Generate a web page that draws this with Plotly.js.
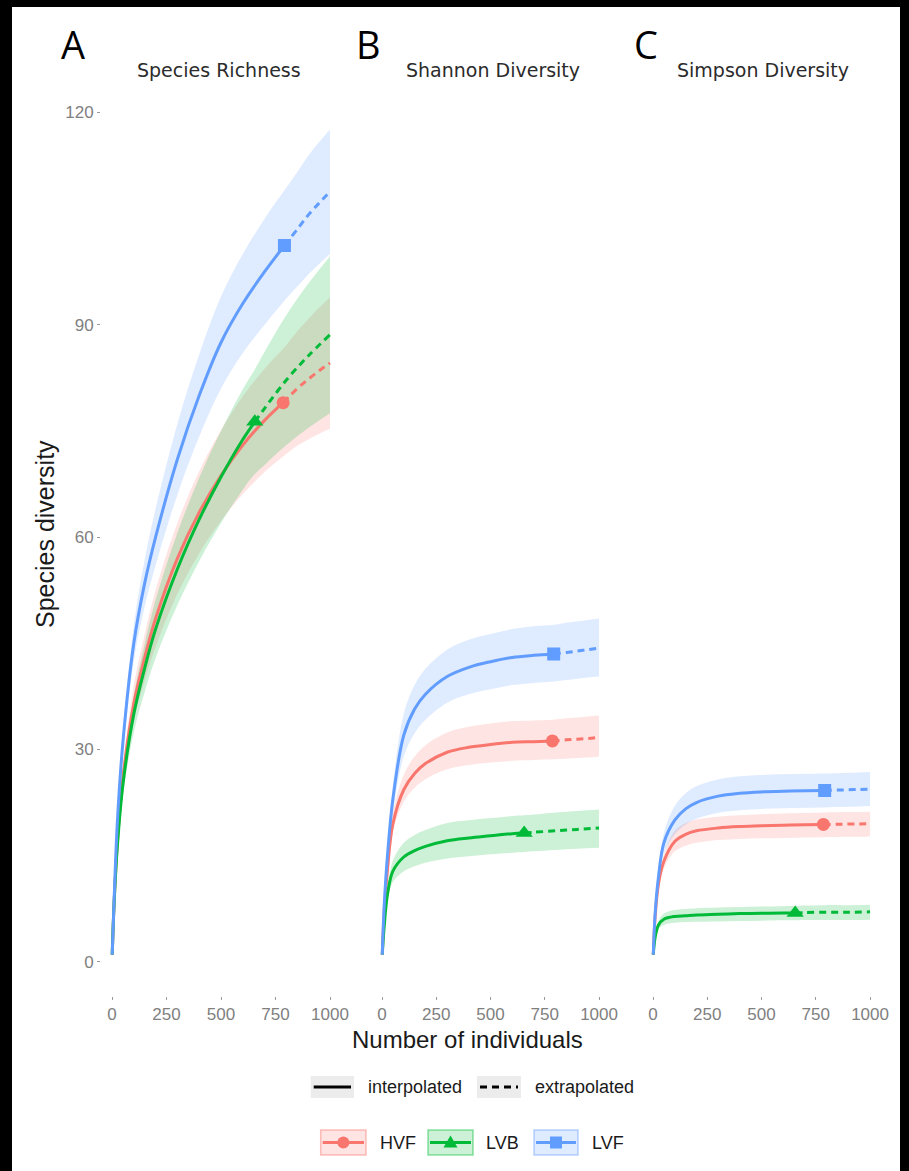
<!DOCTYPE html>
<html>
<head>
<meta charset="utf-8">
<script src="https://cdn.plot.ly/plotly-3.0.1.min.js"></script>
<style>
  html, body { margin:0; padding:0; background:#000; width:909px; height:1171px; overflow:hidden; }
  #wrap { position:absolute; left:12px; top:7px; width:888px; height:1164px; background:#fff; }
  #plot { width:888px; height:1164px; }
</style>
</head>
<body>
<div id="wrap"><div id="plot"></div></div>
<script>
// ---------------- DATA ----------------
const sites = ["HVF", "LVB", "LVF"];
const panelTitles = ["Species Richness", "Shannon Diversity", "Simpson Diversity"];
const panelLetters = ["A", "B", "C"];
const xTicks = [0, 250, 500, 750, 1000];
const yTicks = [0, 30, 60, 90, 120];

// sample sizes (individuals); observed sample size marks interpolation/extrapolation split
const nHVF = [1,10,25,50,100,150,200,300,400,500,600,700,785,850,900,950,1000];
const nLVB = [1,10,25,50,100,150,200,300,400,500,600,655,700,800,900,1000];
const nLVF = [1,10,25,50,100,150,200,300,400,500,600,700,791,850,900,950,1000];
const obsHVF = 785, obsLVB = 655, obsLVF = 791;

// Panel A: species richness
const richHVF    = [1,8.5,17,26,36.5,43,48.5,57,63.5,68.7,73,76.5,79,81,82.3,83.5,84.6];
const richHVF_lo = [1,8.2,16.2,24.5,34,39.7,44.5,52,57.7,62.3,66.1,69.2,71.4,72.9,73.8,74.6,75.3];
const richHVF_hi = [1,8.8,17.8,27.5,39,46.3,52.5,62,69.3,75.1,79.9,83.8,86.6,89.1,90.8,92.4,93.9];
const richLVB    = [1,8.5,16.5,25,35,41.5,47,55.5,62.5,68.5,73.8,76.3,78.2,82.2,85.6,88.6];
const richLVB_lo = [1,8.2,15.7,23.5,32.4,38.1,42.9,50.4,56.6,62,66.7,68.9,70.2,73,75.4,77.5];
const richLVB_hi = [1,8.8,17.3,26.5,37.6,44.9,51.1,60.6,68.4,75,80.9,83.7,86.2,91.4,95.8,99.7];
const richLVF    = [1,9,20,31,45,53.5,60,71,80,87.5,93,97.5,101.2,103.5,105.5,107.2,108.8];
const richLVF_lo = [1,8.7,19.2,29.5,42.5,50.2,56,66,74.2,81,86,90,93.4,95.4,97.1,98.6,100];
const richLVF_hi = [1,9.3,20.8,32.5,47.5,56.8,64,76,85.8,94,100,105,109,111.6,113.9,115.8,117.6];

// Panel B: Shannon diversity
const shanHVF    = [1,7,13,19.5,24.3,26.6,28,29.6,30.3,30.7,31,31.1,31.2,31.35,31.45,31.55,31.7];
const shanHVF_lo = [1,6.7,12.3,18.3,22.6,24.6,25.8,27.2,27.8,28.15,28.4,28.5,28.6,28.7,28.8,28.85,29];
const shanHVF_hi = [1,7.4,13.9,21,26.4,29,30.6,32.4,33.2,33.65,34,34.1,34.2,34.4,34.5,34.65,34.8];
const shanLVB    = [1,5,9.5,12.8,14.8,15.7,16.3,17.1,17.5,17.8,18.1,18.2,18.3,18.5,18.7,18.9];
const shanLVB_lo = [1,4.7,8.7,11.3,12.8,13.5,14,14.6,14.9,15.2,15.4,15.5,15.6,15.8,15.95,16.1];
const shanLVB_hi = [1,5.3,10.3,14.3,16.8,17.9,18.6,19.6,20,20.3,20.6,20.7,20.8,21.1,21.3,21.5];
const shanLVF    = [1,8,15,23,32,35.7,37.8,40.3,41.6,42.4,43,43.3,43.5,43.7,43.9,44.1,44.3];
const shanLVF_lo = [1,7.6,14,21,29,32.3,34.2,36.6,37.8,38.5,39.1,39.4,39.6,39.8,40,40.15,40.3];
const shanLVF_hi = [1,8.4,16,25,35,39.1,41.4,44.1,45.5,46.3,47,47.4,47.6,47.9,48.1,48.3,48.5];

// Panel C: Simpson diversity
const simpHVF    = [1,6.5,11,14.2,17,18,18.5,18.9,19.1,19.2,19.3,19.35,19.4,19.42,19.45,19.47,19.5];
const simpHVF_lo = [1,6.3,10.4,13.2,15.6,16.4,16.8,17.2,17.35,17.45,17.5,17.55,17.6,17.62,17.65,17.67,17.7];
const simpHVF_hi = [1,6.7,11.6,15.2,18.5,19.6,20.1,20.5,20.7,20.85,20.95,21,21.1,21.12,21.15,21.17,21.2];
const simpLVB    = [1,3.5,5.2,6,6.4,6.5,6.6,6.7,6.8,6.85,6.9,6.9,6.95,7,7,7.05];
const simpLVB_lo = [1,3.2,4.6,5.2,5.5,5.6,5.65,5.7,5.75,5.8,5.85,5.85,5.9,5.9,5.9,5.95];
const simpLVB_hi = [1,3.8,5.8,6.8,7.3,7.45,7.55,7.65,7.75,7.8,7.85,7.9,7.95,8,8,8.05];
const simpLVF    = [1,7,12,16.8,20,21.6,22.5,23.4,23.8,24,24.1,24.15,24.2,24.25,24.3,24.35,24.4];
const simpLVF_lo = [1,6.7,11.2,15.4,18,19.4,20.2,21.05,21.4,21.6,21.7,21.75,21.8,21.85,21.9,21.95,22];
const simpLVF_hi = [1,7.3,12.8,18.2,22,23.8,24.8,25.75,26.2,26.4,26.5,26.55,26.6,26.65,26.7,26.75,26.8];

// ---------------- STYLE ----------------
const colors = { HVF: [248,118,109], LVB: [0,186,56], LVF: [97,156,255] };
const symbols = { HVF: "circle", LVB: "triangle-up", LVF: "square" };
const msize = { HVF: 13, LVB: 15, LVF: 13 };
const rgb = (c, a) => a === undefined ? `rgb(${c.join(",")})` : `rgba(${c.join(",")},${a})`;
const SM = 1.0;

const nBySite = { HVF: nHVF, LVB: nLVB, LVF: nLVF };
const obsBySite = { HVF: obsHVF, LVB: obsLVB, LVF: obsLVF };
const panels = [
  { HVF: [richHVF, richHVF_lo, richHVF_hi], LVB: [richLVB, richLVB_lo, richLVB_hi], LVF: [richLVF, richLVF_lo, richLVF_hi] },
  { HVF: [shanHVF, shanHVF_lo, shanHVF_hi], LVB: [shanLVB, shanLVB_lo, shanLVB_hi], LVF: [shanLVF, shanLVF_lo, shanLVF_hi] },
  { HVF: [simpHVF, simpHVF_lo, simpHVF_hi], LVB: [simpLVB, simpLVB_lo, simpLVB_hi], LVF: [simpLVF, simpLVF_lo, simpLVF_hi] }
];
const xaxisIds = ["x", "x2", "x3"];

const traces = [];
panels.forEach((pd, pi) => {
  const xa = xaxisIds[pi];
  sites.forEach(s => {
    const n = nBySite[s], [v, lo, hi] = pd[s];
    traces.push({ x: n, y: lo, xaxis: xa, yaxis: "y", mode: "lines", type: "scatter",
      line: { width: 0, shape: "spline", smoothing: SM }, hoverinfo: "skip", showlegend: false });
    traces.push({ x: n, y: hi, xaxis: xa, yaxis: "y", mode: "lines", type: "scatter", fill: "tonexty",
      fillcolor: rgb(colors[s], 0.2), line: { width: 0, shape: "spline", smoothing: SM }, hoverinfo: "skip", showlegend: false });
  });
  sites.forEach(s => {
    const n = nBySite[s], v = pd[s][0];
    const k = n.indexOf(obsBySite[s]);
    traces.push({ x: n.slice(0, k + 1), y: v.slice(0, k + 1), xaxis: xa, yaxis: "y", mode: "lines", type: "scatter",
      line: { color: rgb(colors[s]), width: 3, shape: "spline", smoothing: SM }, showlegend: false });
    traces.push({ x: n.slice(k), y: v.slice(k), xaxis: xa, yaxis: "y", mode: "lines", type: "scatter",
      line: { color: rgb(colors[s]), width: 3, dash: "7px,5px", shape: "spline", smoothing: SM }, showlegend: false });
  });
  sites.forEach(s => {
    const n = nBySite[s], v = pd[s][0];
    const k = n.indexOf(obsBySite[s]);
    traces.push({ x: [n[k]], y: [v[k]], xaxis: xa, yaxis: "y", mode: "markers", type: "scatter",
      marker: { color: rgb(colors[s]), size: msize[s], symbol: symbols[s], line: { width: 0 } }, showlegend: false });
  });
});

// ---------------- LAYOUT ----------------
const W = 888, H = 1164, OX = 12, OY = 7;
const P = x => (x - OX) / W;
const Q = y => 1 - (y - OY) / H;

const tickFont = { family: "Liberation Sans, Arial, sans-serif", size: 17, color: "#808080" };
const xaxisBase = {
  range: [-50, 1050], tickvals: xTicks, ticktext: xTicks.map(String), ticks: "outside", ticklen: 3,
  tickcolor: "#9a9a9a", tickwidth: 1, showgrid: false, zeroline: false, showline: false,
  tickfont: tickFont, anchor: "y", fixedrange: true
};

const layout = {
  width: W, height: H, margin: { l: 0, r: 0, t: 0, b: 0 },
  paper_bgcolor: "#fff", plot_bgcolor: "rgba(0,0,0,0)", showlegend: false,
  xaxis:  Object.assign({}, xaxisBase, { domain: [P(101.1), P(340.9)] }),
  xaxis2: Object.assign({}, xaxisBase, { domain: [P(371.2), P(609.9)] }),
  xaxis3: Object.assign({}, xaxisBase, { domain: [P(642.2), P(880.9)] }),
  yaxis: {
    range: [-4.84, 123.6], domain: [Q(996), Q(87)], tickvals: yTicks, ticktext: yTicks.map(String),
    ticks: "outside", ticklen: 3, tickcolor: "#9a9a9a", showgrid: false, zeroline: false, showline: false,
    tickfont: tickFont, anchor: "x", fixedrange: true
  },
  annotations: [],
  shapes: []
};

const stripX = [218.5, 493, 762.5];
const letterX = [72.5, 368.5, 646];
panelTitles.forEach((t, i) => {
  layout.annotations.push({ text: t, xref: "paper", yref: "paper", x: P(stripX[i]), y: Q(70), xanchor: "center", yanchor: "middle",
    showarrow: false, font: { family: "DejaVu Sans, sans-serif", size: 19, color: "#2b2b2b" } });
  layout.annotations.push({ text: panelLetters[i], xref: "paper", yref: "paper", x: P(letterX[i]), y: Q(44), xanchor: "center", yanchor: "middle",
    showarrow: false, font: { family: "Open Sans, sans-serif", size: 38, color: "#000" } });
});
layout.annotations.push({ text: "Number of individuals", xref: "paper", yref: "paper", x: P(467.5), y: Q(1039), xanchor: "center", yanchor: "middle",
  showarrow: false, font: { family: "Liberation Sans, Arial, sans-serif", size: 24, color: "#1a1a1a" } });
layout.annotations.push({ text: "Species diversity", xref: "paper", yref: "paper", x: P(45), y: Q(534), xanchor: "center", yanchor: "middle",
  textangle: -90, showarrow: false, font: { family: "Liberation Sans, Arial, sans-serif", size: 25, color: "#1a1a1a" } });

// ---- legend 1: line type ----
const legFont = { family: "Liberation Sans, Arial, sans-serif", size: 18, color: "#1a1a1a" };
const lineTypes = ["interpolated", "extrapolated"];
const lt = [{ box: [310.7, 354], text: 366 }, { box: [477, 521], text: 533 }];
lineTypes.forEach((name, i) => {
  const b = lt[i].box;
  layout.shapes.push({ type: "rect", xref: "paper", yref: "paper", x0: P(b[0]), x1: P(b[1]), y0: Q(1098), y1: Q(1076),
    fillcolor: "#ececec", line: { width: 0 }, layer: "above" });
  layout.shapes.push({ type: "line", xref: "paper", yref: "paper", x0: P(b[0] + 3), x1: P(b[1] - 3), y0: Q(1087), y1: Q(1087),
    line: { color: "#000", width: 3, dash: i === 0 ? "solid" : "7px,5px" }, layer: "above" });
  layout.annotations.push({ text: name, xref: "paper", yref: "paper", x: P(lt[i].text), y: Q(1087), xanchor: "left", yanchor: "middle",
    showarrow: false, font: legFont });
});

// ---- legend 2: sites ----
const sk = { HVF: { box: [320.7, 366], text: 378 }, LVB: { box: [428, 473], text: 484 }, LVF: { box: [534, 578], text: 590 } };
const ly0 = 1130, ly1 = 1155, lyc = 1142.5;
sites.forEach(s => {
  const b = sk[s].box, c = colors[s], cx = (b[0] + b[1]) / 2;
  layout.shapes.push({ type: "rect", xref: "paper", yref: "paper", x0: P(b[0]), x1: P(b[1]), y0: Q(ly1), y1: Q(ly0),
    fillcolor: rgb(c, 0.2), line: { color: rgb(c, 0.45), width: 1.5 }, layer: "above" });
  layout.shapes.push({ type: "line", xref: "paper", yref: "paper", x0: P(b[0] + 2), x1: P(b[1] - 2), y0: Q(lyc), y1: Q(lyc),
    line: { color: rgb(c), width: 3 }, layer: "above" });
  if (s === "HVF") {
    layout.shapes.push({ type: "circle", xref: "paper", yref: "paper", x0: P(cx - 6), x1: P(cx + 6), y0: Q(lyc + 6), y1: Q(lyc - 6),
      fillcolor: rgb(c), line: { width: 0 }, layer: "above" });
  } else if (s === "LVF") {
    layout.shapes.push({ type: "rect", xref: "paper", yref: "paper", x0: P(cx - 6), x1: P(cx + 6), y0: Q(lyc + 6), y1: Q(lyc - 6),
      fillcolor: rgb(c), line: { width: 0 }, layer: "above" });
  } else {
    layout.shapes.push({ type: "path", xref: "paper", yref: "paper",
      path: `M ${P(cx - 7)},${Q(lyc + 5)} L ${P(cx + 7)},${Q(lyc + 5)} L ${P(cx)},${Q(lyc - 7)} Z`,
      fillcolor: rgb(c), line: { width: 0 }, layer: "above" });
  }
  layout.annotations.push({ text: s, xref: "paper", yref: "paper", x: P(sk[s].text), y: Q(lyc), xanchor: "left", yanchor: "middle",
    showarrow: false, font: legFont });
});

Plotly.newPlot("plot", traces, layout, { displayModeBar: false, staticPlot: true });
</script>
</body>
</html>
